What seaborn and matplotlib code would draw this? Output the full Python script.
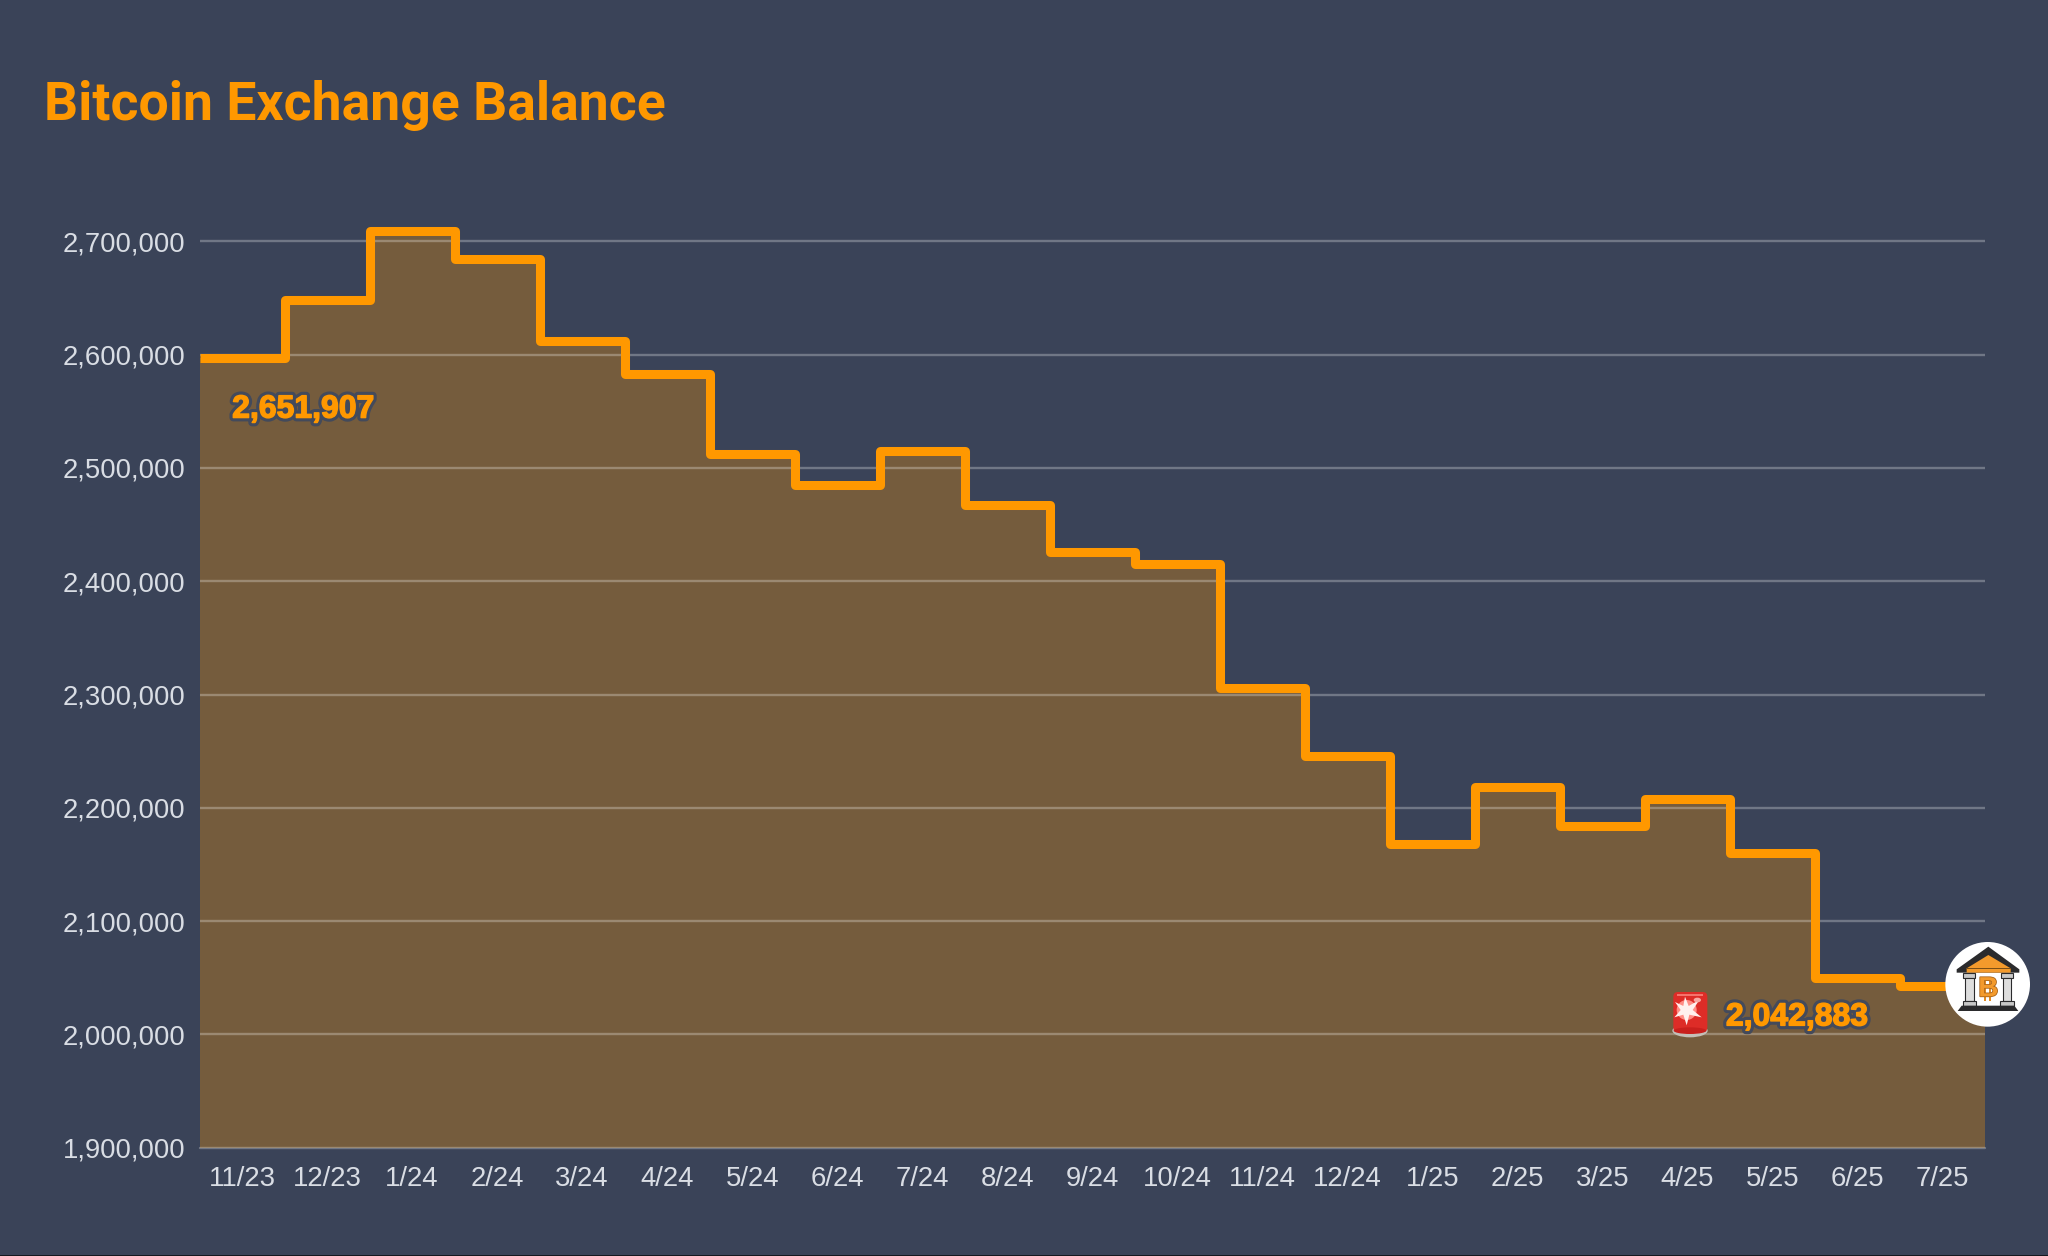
# bitcoin_exchange_balance.py

import numpy as np
import pandas as pd
import matplotlib.pyplot as plt
import matplotlib.patheffects as pe
from matplotlib.patches import Circle, Ellipse, FancyBboxPatch, Polygon, Rectangle
from matplotlib.ticker import FuncFormatter
import seaborn as sns

meses = ['11/23', '12/23', '1/24', '2/24', '3/24', '4/24', '5/24', '6/24', '7/24', '8/24', '9/24',
         '10/24', '11/24', '12/24', '1/25', '2/25', '3/25', '4/25', '5/25', '6/25', '7/25']
saldo = [2597000, 2648000, 2709000, 2684000, 2612000, 2583000, 2512000, 2485000, 2515000, 2467000, 2426000,
         2415000, 2306000, 2246000, 2168000, 2218000, 2184000, 2208000, 2160000, 2050000, 2042883]
ticks_y = [1900000, 2000000, 2100000, 2200000, 2300000, 2400000, 2500000, 2600000, 2700000]

FUNDO = '#3a4358'
LARANJA = '#ff9800'
TEXTO = '#d9dde4'

sns.set_theme(style='dark')
plt.rcParams['font.family'] = ['Liberation Sans', 'DejaVu Sans']


def desenha_icones(fig):
    # Camada com a sirene e o banco, em pixels da area ampliada
    ov = fig.add_axes([1620 / 2048, 0, 428 / 2048, 356 / 1256], zorder=5)
    ov.set_xlim(0, 1284)
    ov.set_ylim(1068, 0)
    ov.axis('off')

    # Sirene
    ov.add_patch(Ellipse((210, 392), 106, 40, fc='#c4bfb8', ec='none'))
    ov.add_patch(FancyBboxPatch((160, 276), 102, 120, boxstyle='round,pad=0,rounding_size=14',
                                fc='#dd2c27', ec='none'))
    ov.add_patch(Ellipse((210, 392), 98, 20, fc='#c9201d', ec='none'))
    ov.add_patch(Rectangle((172, 282), 78, 5, fc='#f4736c', ec='none'))
    ov.add_patch(Circle((200, 330), 30, fc='#ff8d85', ec='none'))
    ov.add_patch(Polygon([(195, 290), (206, 318), (238, 300), (218, 330), (245, 352), (208, 344),
                          (200, 376), (190, 344), (163, 352), (182, 330), (165, 306), (190, 318)],
                         fc='#fff1ee', ec='none'))
    ov.add_patch(Ellipse((232, 300), 22, 14, fc='#f8a9a3', ec='none'))

    # Banco
    ov.add_patch(Circle((1103, 253), 127, fc='white', ec='none'))
    ov.add_patch(Polygon([(1105, 140), (1198, 208), (1198, 218), (1010, 218), (1010, 208)],
                         fc='#2b2b2d', ec='none'))
    ov.add_patch(Polygon([(1105, 165), (1172, 205), (1172, 218), (1040, 218), (1040, 205)],
                         fc='#f39a2c', ec='none'))
    ov.add_patch(Rectangle((1038, 204), 134, 2.5, fc='#7a4f16', ec='none'))
    for x0 in (1030, 1143):
        ov.add_patch(Rectangle((x0, 218), 36, 16, fc='#c8c8c8', ec='#2b2b2d', lw=0.8))
        ov.add_patch(Rectangle((x0 + 5, 234), 26, 69, fc='#dedede', ec='#2b2b2d', lw=0.8))
        ov.add_patch(Rectangle((x0 - 2, 303), 40, 14, fc='#c8c8c8', ec='#2b2b2d', lw=0.8))
    ov.add_patch(Polygon([(1025, 317), (1183, 317), (1195, 333), (1013, 333)], fc='#2b2b2d', ec='none'))
    for x0 in (1093, 1107):
        ov.add_patch(Rectangle((x0, 236), 6, 66, fc='#e08a22', ec='none'))
    ov.text(1105, 268, 'B', color='#f39a2c', fontsize=20, fontweight='bold', ha='center', va='center',
            path_effects=[pe.withStroke(linewidth=1.2, foreground='#a8641a')])


def grafico_saldo():
    fig = plt.figure(figsize=(20.48, 12.56), dpi=100, facecolor=FUNDO)
    ax = fig.add_axes([199.5 / 2048, (1256 - 1147.7) / 1256, (1985 - 199.5) / 2048, 963 / 1256])
    ax.set_facecolor(FUNDO)

    # Bordas dos degraus: cada mes ocupa uma faixa inteira
    bordas = np.arange(len(meses) + 1) - 0.5
    valores = np.r_[saldo, saldo[-1]]
    df = pd.DataFrame({'borda': bordas, 'saldo': valores})

    ax.fill_between(bordas, valores, ticks_y[0], step='post', color=LARANJA, alpha=0.3, lw=0, zorder=1)
    sns.lineplot(x='borda', y='saldo', data=df, ax=ax, drawstyle='steps-post', estimator=None, sort=False,
                 color=LARANJA, linewidth=6.5, solid_joinstyle='round', solid_capstyle='butt', zorder=3)

    ax.set_xlim(-0.5, len(meses) - 0.5)
    ax.set_ylim(ticks_y[0], 2750000)
    ax.set_xticks(range(len(meses)))
    ax.set_xticklabels(meses)
    ax.set_yticks(ticks_y)
    ax.yaxis.set_major_formatter(FuncFormatter(lambda v, _: f'{int(v):,}'))
    ax.set_xlabel('')
    ax.set_ylabel('')
    ax.tick_params(axis='x', length=0, pad=13.5, labelsize=19.8, labelcolor=TEXTO)
    ax.tick_params(axis='y', length=0, pad=10, labelsize=19.8, labelcolor=TEXTO)

    ax.set_axisbelow(False)
    ax.grid(axis='y', color='white', alpha=0.28, linewidth=1.7)
    ax.grid(axis='x', visible=False)
    sns.despine(ax=ax, left=True, bottom=True)
    ax.yaxis.get_gridlines()[0].set_clip_on(False)

    contorno = [pe.Stroke(linewidth=5.5, foreground='#434a5b'), pe.Stroke(linewidth=1, foreground=LARANJA),
                pe.Normal()]
    ax.text(0.72, 2551500, '2,651,907', color=LARANJA, fontsize=23, fontweight='bold', ha='center',
            va='center', path_effects=contorno, zorder=4)
    ax.text(18.29, 2015000, '2,042,883', color=LARANJA, fontsize=23, fontweight='bold', ha='center',
            va='center', path_effects=contorno, zorder=4)

    fig.text(44 / 2048, (1256 - 120) / 1256, 'Bitcoin Exchange Balance', color=LARANJA, fontsize=38.5,
             fontweight='bold', family='Roboto', ha='left', va='baseline')

    # Linha escura na borda inferior
    fig.add_artist(Rectangle((0, 0), 1, 1.5 / 1256, transform=fig.transFigure, fc='#15181f', ec='none'))

    desenha_icones(fig)
    fig.savefig('out.png', dpi=100, facecolor=FUNDO)


def main():
    grafico_saldo()


if __name__ == "__main__":
    main()
